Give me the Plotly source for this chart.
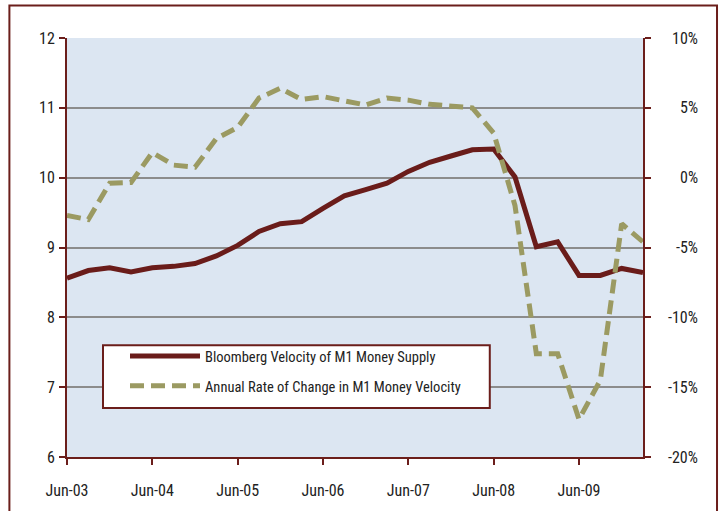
import plotly.graph_objects as go

# ---- data ----
quarters = ["Jun-03", "Sep-03", "Dec-03", "Mar-04", "Jun-04", "Sep-04", "Dec-04",
            "Mar-05", "Jun-05", "Sep-05", "Dec-05", "Mar-06", "Jun-06", "Sep-06",
            "Dec-06", "Mar-07", "Jun-07", "Sep-07", "Dec-07", "Mar-08", "Jun-08",
            "Sep-08", "Dec-08", "Mar-09", "Jun-09", "Sep-09", "Dec-09", "Mar-10"]

velocity = [8.56, 8.67, 8.71, 8.65, 8.71, 8.73, 8.77, 8.88, 9.03, 9.23, 9.34, 9.37,
            9.56, 9.74, 9.83, 9.92, 10.09, 10.22, 10.31, 10.40, 10.41, 10.01, 9.01,
            9.08, 8.60, 8.60, 8.70, 8.64]

change_pct = [-2.7, -3.0, -0.4, -0.35, 1.8, 0.9, 0.75, 2.8, 3.6, 5.7, 6.4, 5.6,
              5.8, 5.5, 5.2, 5.7, 5.55, 5.25, 5.1, 5.0, 3.2, -2.0, -12.6, -12.6,
              -17.3, -14.5, -3.3, -4.6]

x_tick_labels = ["Jun-03", "Jun-04", "Jun-05", "Jun-06", "Jun-07", "Jun-08", "Jun-09"]
left_ticks = [6, 7, 8, 9, 10, 11, 12]
right_tick_vals = [-20, -15, -10, -5, 0, 5, 10]
right_tick_text = ["-20%", "-15%", "-10%", "-5%", "0%", "5%", "10%"]

series_names = ["Bloomberg Velocity of M1 Money Supply",
                "Annual Rate of Change in M1 Money Velocity"]

# ---- style ----
MAROON = "#6B1E1B"
OLIVE = "#9B9A62"
GRID = "#8C8C8C"
FONT = "Liberation Sans Narrow, Roboto Condensed, Arial Narrow, DejaVu Sans Condensed, sans-serif"
TXT = "#222222"

fig = go.Figure()
fig.add_trace(go.Scatter(
    x=quarters, y=velocity, name=series_names[0], mode="lines",
    line=dict(color="#6A1C1A", width=5), legendgroup="a"))
fig.add_trace(go.Scatter(
    x=quarters, y=change_pct, name=series_names[1], mode="lines", yaxis="y2",
    line=dict(color=OLIVE, width=5, dash="14px,7px"), legendgroup="b"))

axis_common = dict(showline=True, linecolor=MAROON, linewidth=2,
                   ticks="outside", tickcolor=MAROON, tickwidth=2, ticklen=6,
                   tickfont=dict(family=FONT, size=16, color=TXT), zeroline=False)

# right-axis labels, right aligned like the original
right_labels = [dict(xref="paper", yref="y2", x=1.099, y=v, text=t,
                     xanchor="right", yanchor="middle", showarrow=False,
                     font=dict(family=FONT, size=16, color=TXT))
                for v, t in zip(right_tick_vals, right_tick_text)]

fig.update_layout(
    width=724, height=511,
    margin=dict(l=67, r=81, t=38, b=54),
    paper_bgcolor="white",
    plot_bgcolor="#DCE6F2",
    font=dict(family=FONT, color=TXT),
    xaxis=dict(type="category", range=[0, 27], tickvals=x_tick_labels,
               ticktext=x_tick_labels, showgrid=False, ticklabelstandoff=12,
               **axis_common),
    yaxis=dict(range=[6, 12], tickvals=left_ticks, showgrid=True, gridcolor=GRID,
               gridwidth=2, ticklabelstandoff=1, **axis_common),
    yaxis2=dict(range=[-20, 10], tickvals=right_tick_vals, showticklabels=False,
                overlaying="y", side="right", showgrid=False,
                **axis_common),
    legend=dict(x=0.1007, y=0.279, xanchor="left", yanchor="top",
                bgcolor="rgba(0,0,0,0)", borderwidth=0,
                font=dict(family=FONT, size=14.5, color=TXT),
                itemwidth=70, tracegroupgap=8),
    showlegend=True,
    annotations=right_labels,
    shapes=[
        dict(type="rect", xref="paper", yref="paper",
             x0=-0.1, x1=1.1285, y0=-0.2, y1=1.0776,
             line=dict(color=MAROON, width=2), layer="below"),
        dict(type="rect", xref="paper", yref="paper",
             x0=0.0625, x1=0.734, y0=0.117, y1=0.267,
             fillcolor="white", line=dict(color=MAROON, width=2), layer="above"),
    ],
)

fig.write_html("out.html", config={"displayModeBar": False},
               post_script="document.body.style.margin='0';document.body.style.overflow='hidden';")
